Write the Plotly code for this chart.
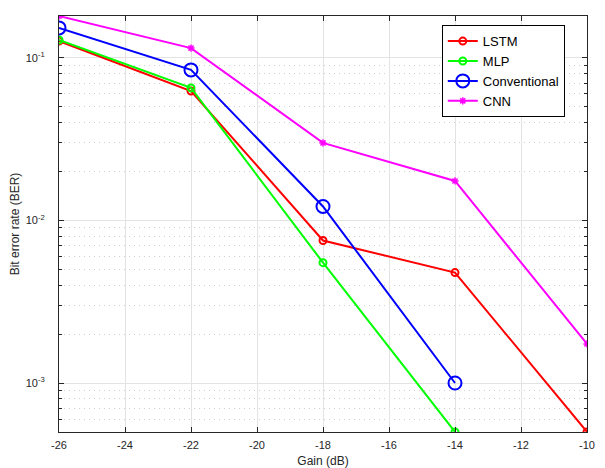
import plotly.graph_objects as go

gain = [-26, -22, -18, -14, -10]
lstm = [0.127, 0.0626, 0.00753, 0.00478, 0.0005]
mlp_x = [-26, -22, -18, -14]
mlp = [0.129, 0.0654, 0.0055, 0.0005]
conv_x = [-26, -22, -18, -14]
conv = [0.153, 0.0844, 0.0122, 0.001]
cnn = [0.181, 0.115, 0.030, 0.0175, 0.00174]

x_ticks = [-26, -24, -22, -20, -18, -16, -14, -12, -10]
y_ticks = [0.001, 0.01, 0.1]
y_ticktext = ["10<sup>-3</sup>", "10<sup>-2</sup>", "10<sup>-1</sup>"]
y_minor = [m * d for d in [0.0001, 0.001, 0.01, 0.1] for m in range(2, 10)]

FONT = "Liberation Sans, Arial"

fig = go.Figure()
fig.add_trace(go.Scatter(x=gain, y=lstm, name="LSTM", mode="lines+markers",
                         line=dict(color="#FF0000", width=2),
                         marker=dict(symbol="circle-open", size=7, color="#FF0000", line=dict(width=2))))
fig.add_trace(go.Scatter(x=mlp_x, y=mlp, name="MLP", mode="lines+markers",
                         line=dict(color="#00FF00", width=2),
                         marker=dict(symbol="circle-open", size=7, color="#00FF00", line=dict(width=2))))
fig.add_trace(go.Scatter(x=conv_x, y=conv, name="Conventional", mode="lines+markers",
                         line=dict(color="#0000FF", width=2),
                         marker=dict(symbol="circle-open", size=13, color="#0000FF", line=dict(width=2))))
fig.add_trace(go.Scatter(x=gain, y=cnn, name="CNN", mode="lines+markers",
                         line=dict(color="#FF00FF", width=2),
                         marker=dict(symbol="asterisk-open", size=6, color="#FF00FF", line=dict(width=1.5))))

axis_common = dict(showline=True, linecolor="#262626", linewidth=1, mirror="ticks",
                   ticks="inside", ticklen=5, tickcolor="#262626",
                   showgrid=True, gridcolor="#E3E3E3", gridwidth=1, zeroline=False,
                   automargin=False,
                   tickfont=dict(family=FONT, size=11, color="#262626"))

fig.update_xaxes(range=[-26, -10], tickvals=x_ticks, ticktext=[str(v) for v in x_ticks],
                 ticklabelstandoff=3,
                 title=dict(text="Gain (dB)", font=dict(family=FONT, size=12, color="#262626"), standoff=9),
                 **axis_common)
fig.update_yaxes(type="log", range=[-3.3015, -0.742], tickvals=y_ticks, ticktext=y_ticktext,
                 ticklabelstandoff=11,
                 title=dict(text="Bit error rate (BER)", font=dict(family=FONT, size=12, color="#262626"), standoff=4),
                 minor=dict(tickvals=y_minor, ticks="inside", ticklen=3, tickcolor="#262626",
                            showgrid=True, gridcolor="#CFCFCF", griddash="1px,4px", gridwidth=1),
                 **axis_common)

# page body adds an 8px offset; compensate so plot area sits at x 59-587, y 16-432
fig.update_layout(
    width=597, height=460,
    margin=dict(l=51, r=18, t=8, b=36),
    plot_bgcolor="white", paper_bgcolor="white",
    font=dict(family=FONT, size=12, color="black"),
    legend=dict(x=0.725, y=0.978, xanchor="left", yanchor="top",
                bgcolor="white", bordercolor="black", borderwidth=1,
                font=dict(family=FONT, size=13, color="black"),
                tracegroupgap=0, itemwidth=30),
    showlegend=True,
)

fig.write_html("out.html")
